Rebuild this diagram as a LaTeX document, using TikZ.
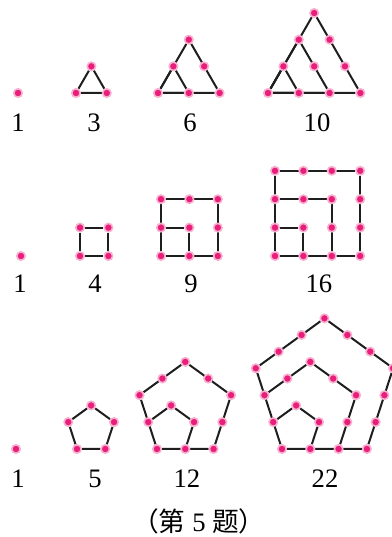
\documentclass[tikz,border=0pt]{standalone}
\usepackage{fontspec}
\setmainfont{Liberation Serif}
\newfontfamily\cjk{Noto Sans CJK SC}
\usetikzlibrary{backgrounds}
\definecolor{dotpink}{RGB}{232,30,122}
\definecolor{linegray}{RGB}{30,30,30}
\tikzset{
  dot/.style={circle, fill=dotpink, draw=dotpink!35, line width=1.2pt, inner sep=0pt, minimum size=6.3pt},
  edge/.style={draw=linegray, line width=1.5pt},
  num/.style={anchor=base, inner sep=0pt, font=\fontsize{20}{24}\selectfont}
}
% unit pentagon corners, bottom left first
\def\penvx{{0,1,1.309,0.5,-0.309}}
\def\penvy{{0,0,0.951,1.539,0.951}}
\begin{document}
\begin{tikzpicture}[x=0.75pt,y=0.75pt]
    \useasboundingbox (0,0) rectangle (392,537);

    % Triangular numbers
    \node[dot] (tri1) at (18,444) {};
    \foreach \c/\x/\m in {3/76/1, 6/158/2, 10/268/3} {
        \foreach \a in {0,...,\m} {
            \pgfmathtruncatemacro\n{\m-\a}
            \foreach \b in {0,...,\n}
                \node[dot] (tri\c-\a-\b) at (\x+\a*30.8+\b*15.4, 444+\b*26.67) {};
        }
    }
    \begin{scope}[on background layer]
    \foreach \c/\m in {3/1, 6/2, 10/3}
        \foreach \k in {1,...,\m}
            \draw[edge] (tri\c-0-0) -- (tri\c-\k-0) -- (tri\c-0-\k) -- (tri\c-0-0);
    \end{scope}
    \node[num] (n-tri1) at (18,405) {1};
    \node[num] (n-tri3) at (94,405) {3};
    \node[num] (n-tri6) at (190,405) {6};
    \node[num] (n-tri10) at (317,405) {10};

    % Square numbers
    \node[dot] (sq1) at (21,281) {};
    \foreach \c/\x/\m in {4/80/1, 9/161/2, 16/275/3}
        \foreach \i in {0,...,\m}
            \foreach \j in {0,...,\m}
                \node[dot] (sq\c-\i-\j) at (\x+\i*28.4, 281+\j*28.4) {};
    \begin{scope}[on background layer]
    \foreach \c/\m in {4/1, 9/2, 16/3}
        \foreach \k in {1,...,\m}
            \draw[edge] (sq\c-0-0) -- (sq\c-\k-0) -- (sq\c-\k-\k) -- (sq\c-0-\k) -- (sq\c-0-0);
    \end{scope}
    \node[num] (n-sq1) at (20,244) {1};
    \node[num] (n-sq4) at (95,244) {4};
    \node[num] (n-sq9) at (191,244) {9};
    \node[num] (n-sq16) at (319,244) {16};

    % Pentagonal numbers
    \node[dot] (pen1) at (16,88) {};
    \foreach \c/\x/\m in {5/77/1, 12/157/2, 22/282/3} {
        \pgfmathtruncatemacro\n{\m-1}
        \foreach \e in {0,...,4}
            \foreach \t in {0,...,\n} {
                \pgfmathsetmacro\px{\x+28.3*(\m*\penvx[\e]+\t*cos(72*\e))}
                \pgfmathsetmacro\py{88+28.3*(\m*\penvy[\e]+\t*sin(72*\e))}
                \node[dot] (pen\c-\e-\t) at (\px,\py) {};
            }
    }
    % inner pentagons, only the dots they add
    \foreach \c/\x/\k/\e/\t in {12/157/1/2/0, 12/157/1/3/0,
            22/282/2/1/1, 22/282/2/2/0, 22/282/2/2/1, 22/282/2/3/0, 22/282/2/3/1,
            22/282/1/2/0, 22/282/1/3/0} {
        \pgfmathsetmacro\px{\x+28.3*(\k*\penvx[\e]+\t*cos(72*\e))}
        \pgfmathsetmacro\py{88+28.3*(\k*\penvy[\e]+\t*sin(72*\e))}
        \node[dot] (pen\c-in\k-\e-\t) at (\px,\py) {};
    }
    \begin{scope}[on background layer]
    \foreach \c in {5, 12, 22}
        \draw[edge] (pen\c-0-0) -- (pen\c-1-0) -- (pen\c-2-0) -- (pen\c-3-0) -- (pen\c-4-0) -- (pen\c-0-0);
    \draw[edge] (pen12-0-1) -- (pen12-in1-2-0) -- (pen12-in1-3-0) -- (pen12-4-1);
    \draw[edge] (pen22-0-2) -- (pen22-in2-2-0) -- (pen22-in2-3-0) -- (pen22-4-1);
    \draw[edge] (pen22-0-1) -- (pen22-in1-2-0) -- (pen22-in1-3-0) -- (pen22-4-2);
    \end{scope}
    \node[num] (n-pen1) at (18,50) {1};
    \node[num] (n-pen5) at (95,50) {5};
    \node[num] (n-pen12) at (187,50) {12};
    \node[num] (n-pen22) at (325,50) {22};

    \node[num] (caption) at (199,6) {{\cjk （第} 5 {\cjk 题）}};
\end{tikzpicture}
\end{document}
